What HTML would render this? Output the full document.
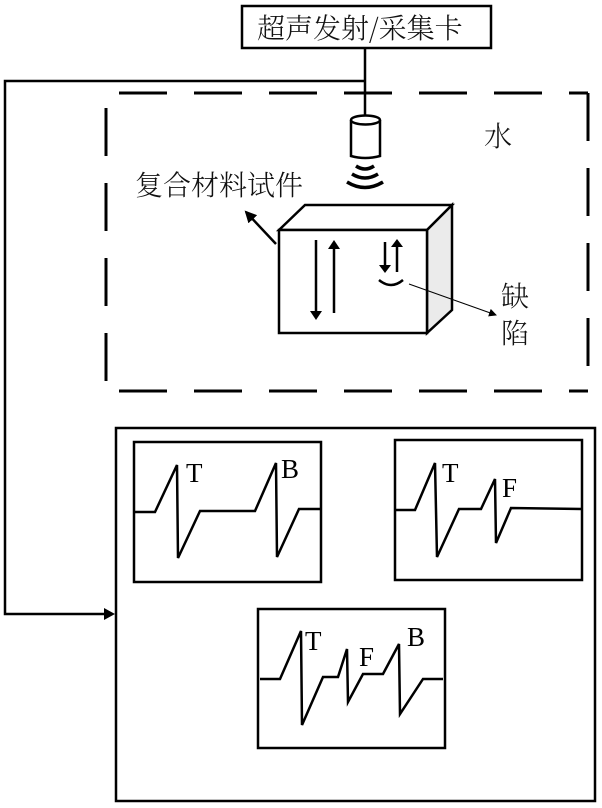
<!DOCTYPE html>
<html><head><meta charset="utf-8"><style>
html,body{margin:0;padding:0;background:#fff;}
svg{display:block;}
.cj{font-family:"Noto Serif CJK SC","Liberation Serif",serif;font-size:28px;font-weight:300;fill:#111;}
.lt{font-family:"Liberation Serif",serif;font-size:27px;fill:#000;}
</style></head><body>
<svg width="602" height="808" viewBox="0 0 602 808" xmlns="http://www.w3.org/2000/svg">
<defs>
<marker id="ah" markerWidth="8" markerHeight="8" refX="7" refY="4" orient="auto" markerUnits="userSpaceOnUse"><path d="M0,0 L8,4 L0,8 z" fill="#000"/></marker>
<marker id="ah2" markerWidth="12" markerHeight="12" refX="10" refY="6" orient="auto" markerUnits="userSpaceOnUse"><path d="M0,0 L12,6 L0,12 z" fill="#000"/></marker>
</defs>
<g fill="none" stroke="#000" stroke-width="2.5">
<rect x="242" y="6" width="249" height="42" stroke-width="2.5"/>
<line x1="365" y1="48" x2="365" y2="116"/>
<polyline points="365,81 5,81 5,614 106,614"/>
</g>
<path d="M104,608 L115,614 L104,620 z" fill="#000"/>
<text class="cj" x="257" y="38">超声发射/采集卡</text>
<g fill="none" stroke="#000" stroke-width="3">
<line x1="119" y1="93" x2="588" y2="93" stroke-dasharray="48 27"/>
<line x1="588" y1="93" x2="588" y2="391" stroke-dasharray="48 27" stroke-dashoffset="0"/>
<line x1="106" y1="391" x2="588" y2="391" stroke-dasharray="48 27" stroke-dashoffset="-13"/>
<line x1="106" y1="108" x2="106" y2="391" stroke-dasharray="48 27"/>
</g>
<text class="cj" x="484" y="146">水</text>
<g stroke="#000" stroke-width="2.5" fill="#fff">
<path d="M351,120 L351,156 Q365,160 380,156 L380,120"/>
<ellipse cx="365.5" cy="120" rx="14.5" ry="4.5"/>
</g>
<g fill="none" stroke="#000" stroke-width="3.5">
<path d="M356,166 Q365,172 374,166"/>
<path d="M352,174 Q365,182 378,174"/>
<path d="M347,182 Q365,193 383,182"/>
</g>
<g stroke="#000" stroke-width="2.5">
<polygon points="279,230 305,205 452,205 427,230" fill="#fff"/>
<polygon points="427,230 452,205 452,310 427,333" fill="#ebebeb"/>
<rect x="279" y="230" width="148" height="103" fill="#fff"/>
</g>
<g stroke="#000" stroke-width="2.5" fill="none">
<line x1="316" y1="240" x2="316" y2="312"/>
<line x1="334" y1="313" x2="334" y2="248"/>
<line x1="385" y1="242" x2="385" y2="266"/>
<line x1="397" y1="272" x2="397" y2="246"/>
<path d="M379,280 Q391,290 403,280"/>
</g>
<path d="M310,311 L316,320 L322,311 z" fill="#000"/>
<path d="M328,249 L334,240 L340,249 z" fill="#000"/>
<path d="M379,265 L385,273 L391,265 z" fill="#000"/>
<path d="M391,247 L397,239 L403,247 z" fill="#000"/>
<line x1="409" y1="284" x2="496" y2="315" stroke="#000" stroke-width="1" marker-end="url(#ah)"/>
<line x1="276" y1="244" x2="246" y2="212" stroke="#000" stroke-width="2.5" marker-end="url(#ah2)"/>
<text class="cj" x="135" y="195">复合材料试件</text>
<text class="cj" x="501" y="306">缺</text>
<text class="cj" x="501" y="343">陷</text>
<rect x="116" y="428" width="479" height="373" fill="none" stroke="#000" stroke-width="2.5"/>
<g fill="none" stroke="#000" stroke-width="2.5">
<rect x="134" y="442" width="187" height="140"/>
<polyline points="135,512 155,512 177,465 178,558 200,511 255,511 276,463 277,557 299,509 320,509"/>
<rect x="395" y="440" width="187" height="140"/>
<polyline points="396,510 415,510 435,463 437,557 459,509 481,509 495,479 496,543 511,508 582,509"/>
<rect x="258" y="609" width="187" height="139"/>
<polyline points="260,679 280,679 301,631 302,725 323,677 338,677 347,649 348,702 363,674 383,674 399,644 400,714 423,679 443,679"/>
</g>
<text class="lt" x="186" y="482">T</text>
<text class="lt" x="281" y="478">B</text>
<text class="lt" x="442" y="482">T</text>
<text class="lt" x="502" y="497">F</text>
<text class="lt" x="305" y="650">T</text>
<text class="lt" x="359" y="666">F</text>
<text class="lt" x="407" y="646">B</text>
</svg>
</body></html>
